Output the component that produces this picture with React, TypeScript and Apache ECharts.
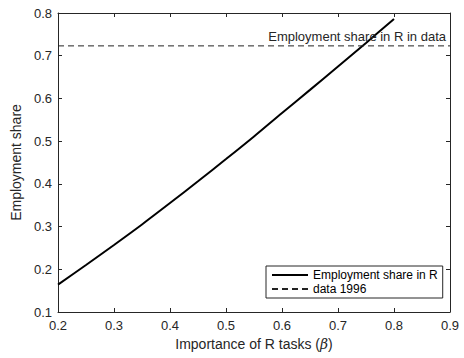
import React, { useEffect, useRef } from "react";
import * as echarts from "echarts";

const betaValues = [0.2, 0.25, 0.3, 0.35, 0.4, 0.45, 0.5, 0.55, 0.6, 0.65, 0.7, 0.75, 0.8];
const employmentShare = [0.164, 0.21, 0.257, 0.305, 0.355, 0.406, 0.458, 0.511, 0.566, 0.62, 0.675, 0.73, 0.786];
const dataShare1996 = 0.723;
const xRange = [0.2, 0.9];
const yRange = [0.1, 0.8];
const seriesNames = ["Employment share in R", "data 1996"];
const annotationText = "Employment share in R in data";
const xTitle = "Importance of R tasks (";
const yTitle = "Employment share";

const FONT = "'Liberation Sans', Arial, Helvetica, sans-serif";
const AX = "#262626";

export default function App() {
  const ref = useRef<HTMLDivElement>(null);
  useEffect(() => {
    if (!ref.current) return;
    const chart = echarts.init(ref.current, null, { renderer: "svg" });
    const fmt = (v: number) => v.toFixed(1);
    const axisCommon = {
      type: "value" as const,
      interval: 0.1,
      axisLine: { show: true, lineStyle: { color: AX, width: 1 } },
      axisTick: { show: true, inside: true, length: 4, lineStyle: { color: AX } },
      splitLine: { show: false },
    };
    chart.setOption({
      animation: false,
      textStyle: { fontFamily: FONT },
      grid: { left: 58, right: 14, top: 13, bottom: 46 },
      xAxis: [
        {
          ...axisCommon,
          min: xRange[0],
          max: xRange[1],
          position: "bottom",
          axisLabel: { formatter: fmt, color: AX, fontSize: 13, margin: 7, fontFamily: FONT },
          name: xTitle + "{b|β})",
          nameLocation: "middle",
          nameGap: 24,
          nameTextStyle: {
            fontSize: 14,
            color: AX,
            fontFamily: FONT,
            rich: {
              b: { fontStyle: "italic", fontSize: 14, color: AX, fontFamily: "'DejaVu Serif', serif" },
            },
          },
        },
        {
          ...axisCommon,
          min: xRange[0],
          max: xRange[1],
          position: "top",
          axisLabel: { show: false },
        },
      ],
      yAxis: [
        {
          ...axisCommon,
          min: yRange[0],
          max: yRange[1],
          position: "left",
          axisLabel: { formatter: fmt, color: AX, fontSize: 13, margin: 6, fontFamily: FONT },
          name: yTitle,
          nameLocation: "middle",
          nameGap: 30,
          nameTextStyle: { fontSize: 14, color: AX, fontFamily: FONT },
        },
        {
          ...axisCommon,
          min: yRange[0],
          max: yRange[1],
          position: "right",
          axisLabel: { show: false },
        },
      ],
      legend: {
        orient: "vertical",
        left: 266,
        top: 266,
        padding: [3, 5, 3, 5],
        itemWidth: 36,
        itemHeight: 14,
        itemGap: 2,
        borderColor: AX,
        borderWidth: 1,
        backgroundColor: "#fff",
        itemStyle: { opacity: 0 },
        textStyle: { fontSize: 12, color: "#000", fontFamily: FONT },
        data: seriesNames,
      },
      series: [
        {
          name: seriesNames[0],
          type: "line",
          data: betaValues.map((b, i) => [b, employmentShare[i]]),
          symbol: "none",
          smooth: 0.3,
          lineStyle: { color: "#000", width: 2 },
          itemStyle: { color: "#000" },
        },
        {
          name: seriesNames[1],
          type: "line",
          data: [
            [xRange[0], dataShare1996],
            [xRange[1], dataShare1996],
          ],
          symbol: "none",
          lineStyle: { color: "#222", width: 1, type: [6, 4] },
          itemStyle: { color: "#222" },
          markPoint: {
            symbol: "circle",
            symbolSize: 0,
            data: [
              {
                coord: [xRange[1], dataShare1996],
                label: {
                  show: true,
                  formatter: annotationText,
                  position: "left",
                  distance: 4,
                  offset: [0, -9],
                  fontSize: 13,
                  color: AX,
                  fontFamily: FONT,
                },
              },
            ],
          },
        },
      ],
    });
    return () => chart.dispose();
  }, []);
  return <div ref={ref} style={{ width: 464, height: 358, position: "absolute", left: 0, top: 0, background: "#fff" }} />;
}
